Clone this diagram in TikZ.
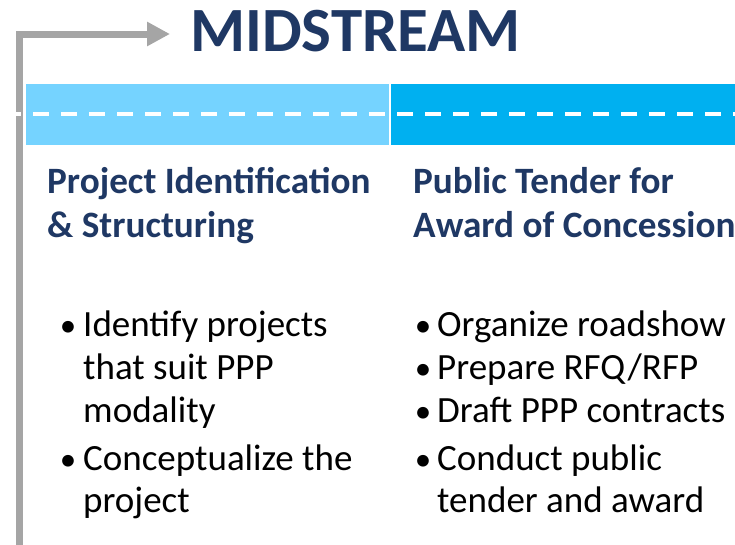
\documentclass[tikz,border=0pt]{standalone}
\usepackage{fontspec}
\setmainfont{Carlito}
\usetikzlibrary{arrows.meta}
\definecolor{navy}{HTML}{1F3864}
\definecolor{lightband}{HTML}{75D3FF}
\definecolor{darkband}{HTML}{00B0F0}
\definecolor{arrowgray}{HTML}{A5A5A5}
\tikzset{
  title/.style={font=\bfseries\fontsize{63}{70}\selectfont, text=navy, inner sep=0pt, anchor=base},
  heading/.style={font=\bfseries\fontsize{37.2}{44}\selectfont, text=navy, inner sep=0pt, anchor=base west},
  bodyline/.style={font=\fontsize{37}{44}\selectfont, text=black, inner sep=0pt, anchor=base west},
  bulletmark/.style={font=\fontsize{33}{44}\selectfont, text=black, inner sep=0pt, anchor=base},
}
\begin{document}
\begin{tikzpicture}[x=1pt,y=-1pt]
\useasboundingbox (0,0) rectangle (735,544);
% band
\fill[lightband] (26,84) rectangle (389,145);
\fill[darkband] (391,84) rectangle (735,145);
% title
\node[title] (title) at (355.5,51) {MIDSTREAM};
% gray arrow
\coordinate (gstart) at (19.5,550);
\coordinate (gend) at (170,34);
\draw[arrowgray, line width=7pt, -{Triangle[length=23pt,width=23pt]}] (gstart) |- (gend);
% dashed line
\coordinate (dl) at (0,114);
\coordinate (dr) at (735,114);
\draw[white, line width=4.5pt, dash pattern=on 16pt off 12pt, dash phase=-5pt] (dl) -- (dr);
% headings
\node[heading] (h1a) at (47,193) {Project Identification};
\node[heading] (h1b) at (47,237) {\& Structuring};
\node[heading] (h2a) at (413,193) {Public Tender for};
\node[heading] (h2b) at (413,237) {Award of Concession};
% left bullets
\node[bulletmark] (lb1) at (68,336) {•};
\node[bodyline] (l1) at (83,336) {Identify projects};
\node[bodyline] (l2) at (83,379) {that suit PPP};
\node[bodyline] (l3) at (83,422) {modality};
\node[bulletmark] (lb2) at (68,470) {•};
\node[bodyline] (l4) at (83,470) {Conceptualize the};
\node[bodyline] (l5) at (83,512) {project};
% right bullets
\node[bulletmark] (rb1) at (423,336) {•};
\node[bodyline] (r1) at (437,336) {Organize roadshow};
\node[bulletmark] (rb2) at (423,379) {•};
\node[bodyline] (r2) at (437,379) {Prepare RFQ/RFP};
\node[bulletmark] (rb3) at (423,422) {•};
\node[bodyline] (r3) at (437,422) {Draft PPP contracts};
\node[bulletmark] (rb4) at (423,470) {•};
\node[bodyline] (r4) at (437,470) {Conduct public};
\node[bodyline] (r5) at (437,512) {tender and award};
\end{tikzpicture}
\end{document}
